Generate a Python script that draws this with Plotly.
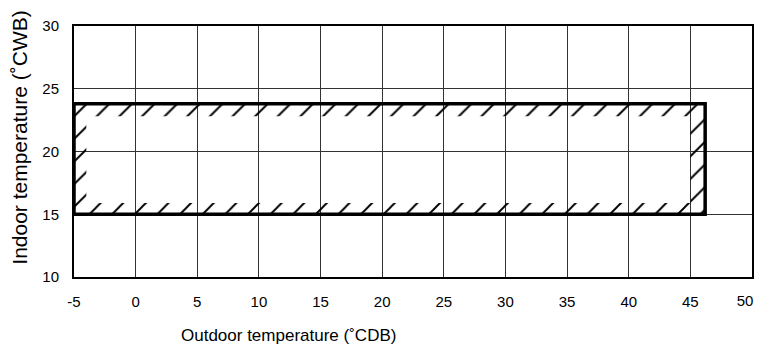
import plotly.graph_objects as go

# operating envelope (outdoor degC DB, indoor degC WB)
outdoor_range = [-5, 46.2]
indoor_range = [15, 23.8]

x_ticks = [-5, 0, 5, 10, 15, 20, 25, 30, 35, 40, 45, 50]
x_labels = ["-5", "0", "5", "10", "15", "20", "25", "30", "35", "40", "45", ""]
x_last_tick = [50]
x_last_label = ["50"]
y_ticks = [10, 15, 20, 25, 30]

x_title = "Outdoor temperature (˚CDB)"
y_title = "Indoor temperature (˚CWB)"

# depth of the hatched band inside the envelope, in data units
band_x = (1.0, 1.2)
band_y = (0.9, 1.0)

FONT = "Arial, 'Liberation Sans', sans-serif"

x0, x1 = outdoor_range
y0, y1 = indoor_range
ix0, ix1 = x0 + band_x[0], x1 - band_x[1]
iy0, iy1 = y0 + band_y[0], y1 - band_y[1]

fig = go.Figure()

# hatched frame: outer box, then inner box the other way round -> hole
fig.add_trace(go.Scatter(
    x=[x0, x1, x1, x0, x0, ix0, ix0, ix1, ix1, ix0, x0],
    y=[y0, y0, y1, y1, y0, iy0, iy1, iy1, iy0, iy0, y0],
    mode="lines",
    line=dict(width=0, color="rgba(0,0,0,0)"),
    fill="toself",
    fillcolor="rgba(0,0,0,0)",
    fillpattern=dict(shape="/", fgcolor="black", bgcolor="rgba(0,0,0,0)",
                     fgopacity=1, size=16, solidity=0.12),
    hoverinfo="skip",
    showlegend=False,
))

# envelope outline
fig.add_trace(go.Scatter(
    x=[x0, x1, x1, x0, x0],
    y=[y0, y0, y1, y1, y0],
    mode="lines",
    line=dict(width=3.5, color="black"),
    hoverinfo="skip",
    showlegend=False,
))

# empty trace so the overlay axis (carrying the "50" label) gets drawn
fig.add_trace(go.Scatter(x=[], y=[], xaxis="x2", yaxis="y",
                         hoverinfo="skip", showlegend=False))

tick_font = dict(family=FONT, size=15, color="black")
axis_common = dict(
    showline=True, mirror=True, linecolor="black", linewidth=2,
    showgrid=True, gridcolor="#333", gridwidth=1.4,
    zeroline=False, ticks="", ticklabelstandoff=10, automargin=False,
    tickfont=tick_font,
)

fig.update_xaxes(range=[-5, 50], tickvals=x_ticks, ticktext=x_labels, **axis_common)
fig.update_yaxes(range=[10, 30], tickvals=y_ticks, **axis_common)

fig.update_layout(
    xaxis2=dict(overlaying="x", anchor="y", side="bottom", range=[-5, 50],
                tickvals=x_last_tick, ticktext=x_last_label, ticklabelshift=-7,
                ticklabelstandoff=13, ticks="", showgrid=False, showline=False,
                zeroline=False, automargin=False, tickfont=tick_font),
)

fig.add_annotation(text=x_title, xref="paper", yref="paper",
                   x=0.317, y=-0.235, xanchor="center", yanchor="middle",
                   showarrow=False, font=dict(family=FONT, size=17, color="black"))
fig.add_annotation(text=y_title, xref="paper", yref="paper",
                   x=-0.08, y=0.554, xanchor="center", yanchor="middle",
                   textangle=-90, showarrow=False,
                   font=dict(family=FONT, size=21, color="black"))

fig.update_layout(
    width=758, height=350,
    margin=dict(l=74, r=6, t=26, b=73, autoexpand=False),
    plot_bgcolor="white", paper_bgcolor="white",
)

# drop the page's default body margin and scrollbars so the figure sits at the origin
fig.write_html(
    "out.html",
    config={"displayModeBar": False, "responsive": False},
    post_script="document.body.style.margin='0';"
                "document.body.style.overflow='hidden';"
                "document.documentElement.style.overflow='hidden';",
)
